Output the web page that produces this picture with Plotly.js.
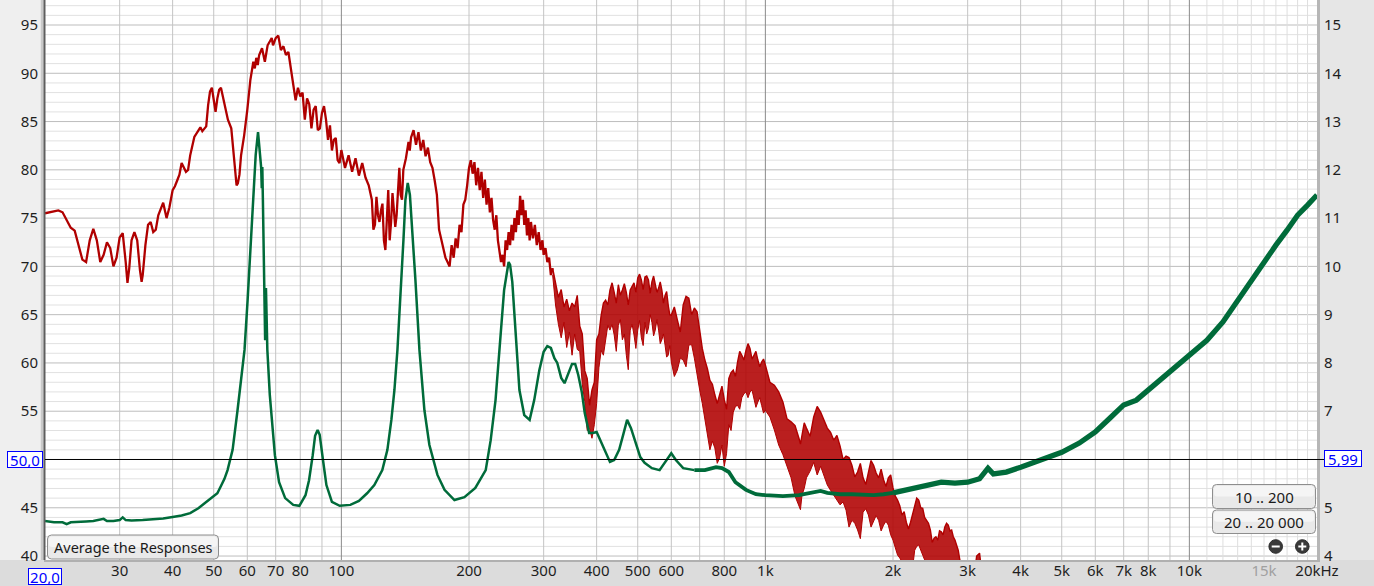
<!DOCTYPE html>
<html><head><meta charset="utf-8">
<script src="https://cdn.plot.ly/plotly-3.0.1.min.js"></script>
<style>html,body{margin:0;padding:0;background:#dcdcdc;overflow:hidden}#chart{width:1374px;height:586px}</style>
</head><body><div id="chart"></div>
<script>
// ---------------- DATA ----------------
// Red curve: SPL in dB (left axis). Smooth/jagged part as a line.
const redLineF = [20,20.5,21,21.5,22,22.5,23,23.5,24,24.5,25,25.5,26,26.5,27,27.5,28,28.5,29,29.5,30,30.5,31,31.3,31.6,32,32.5,33,33.5,33.8,34,34.5,35,35.5,36,36.5,37,38,38.7,39.3,40,40.5,41,41.5,42,42.5,43,43.5,44,45,46,46.5,47,47.5,48,48.5,49,49.5,50,50.5,51,51.5,52,52.5,53,54,55,56,56.6,57,57.5,58,59,60,61,62,62.5,63,63.5,64,65,66,67,68,68.5,69,70,71,72,73,74,75,76,77,78,79,80,81,82,83,84,85,86,87,88,89,90,91,92,93,94,95,96,97,98,99,100,102,104,106,108,110,112,114,116,118,119,120,121,122,123,124,125,126,127,128,129,130,131,132,133,134,135,136,137,138,139,140,142,144,145,146,148,150,152,154,156,158,160,162,164,166,168,170,172,174,176,178,180,182,184,186,188,190,192,194,196,198,200,202,204,206,208,210,212,214,216,218,220,222,224,226,228,230,232,234,236,238,240,242,244,246,248,250,252,254,256,258,260,262,264,266,268,270,272,274,276,278,280,283,286,289,292,295,298,300,303,306,309,312,315];
const redLineDb = [75.5,75.6,75.7,75.8,75.6,74.8,74.0,73.7,72.2,70.7,70.45,72.7,73.9,72.7,70.45,71.2,72.5,71.9,70.0,70.9,73.0,73.45,70.45,68.3,69.8,72.7,73.55,72.7,69.6,68.4,69.1,72.2,74.3,74.6,73.55,73.8,75.3,76.6,75.0,76.1,77.9,78.3,78.9,79.5,80.7,80.2,79.8,80.0,81.5,83.4,84.1,84.4,84.0,84.3,84.5,86.7,88.1,88.5,87.2,86.0,87.4,88.3,88.5,87.7,87.0,85.2,84.3,81.0,78.4,78.6,79.5,81.5,83.6,86.2,89.3,91.2,90.5,91.6,90.85,91.9,92.6,91.2,92.9,93.4,93.65,92.9,93.65,93.9,92.4,92.8,91.9,92.2,90.5,88.8,87.2,88.5,87.6,88.0,85.2,87.4,86.8,84.3,86.2,86.6,84.1,84.3,85.9,86.6,85.2,83.1,84.6,82.0,83.1,83.3,81.0,80.7,82.05,80.2,81.5,79.8,81.2,79.4,80.7,79.2,78.4,76.9,73.8,74.3,77.2,75.3,74.6,75.8,76.5,72.7,71.7,74.8,77.9,72.7,74.6,77.6,75.8,74.1,75.3,78.4,80.2,77.4,76.9,80.0,81.2,82.9,82.0,83.35,84.1,82.6,83.9,82.0,83.1,81.4,82.3,80.8,80.2,78.9,77.4,73.8,72.7,71.7,70.9,70.45,70.0,72.2,70.9,72.9,71.9,74.3,73.55,76.4,76.9,78.4,80.2,81.0,79.6,80.8,78.4,80.2,77.9,79.8,77.1,79.0,76.4,78.1,75.6,77.1,74.8,73.8,75.3,72.7,71.7,70.45,71.2,70.0,72.7,71.7,73.55,72.2,74.3,72.7,75.0,73.55,75.8,74.3,77.3,75.3,76.9,74.3,75.8,73.2,75.0,72.7,74.6,72.9,74.3,72.2,73.55,71.7,72.7,71.2,71.9,70.45,70.9,69.1,69.8];

// Red curve, noisy part: upper and lower edge of the band (dB)
const bandF = [315,320,325,330,335,340,345,350,355,360,365,370,375,380,385,390,395,400,405,410,415,420,425,430,435,440,445,450,455,460,465,470,475,480,485,490,495,500,505,510,515,520,525,530,535,540,545,550,555,560,565,570,575,580,585,590,595,600,610,620,630,640,650,660,670,680,690,700,710,720,730,740,750,760,770,780,790,800,810,820,830,840,850,860,870,880,890,900,910,920,930,940,950,960,970,980,990,1000,1025,1050,1075,1100,1125,1150,1175,1200,1210,1220,1235,1250,1275,1300,1325,1350,1375,1400,1425,1450,1475,1500,1525,1550,1575,1600,1625,1650,1675,1700,1725,1750,1775,1800,1825,1850,1875,1900,1925,1950,1975,2000,2025,2050,2075,2100,2125,2150,2175,2200,2225,2250,2275,2300,2325,2350,2375,2400,2425,2450,2475,2500,2525,2550,2575,2600,2625,2650,2675,2700,2725,2750,2775,2800,2825,2850,2875,2900,2950,3000,3100,3150,3200,3250,3300];
const bandHi = [69.83,68.4,66.8,67.6,65.8,66.6,65.4,66.2,65.8,67.0,63.8,63.0,59.2,58.4,55.6,57.2,58.0,62.4,63.0,64.96,66.2,66.5,66.0,67.55,68.3,67.3,66.2,68.1,67.0,67.55,68.2,67.3,66.0,67.55,68.0,68.3,67.3,68.8,69.2,68.6,67.6,68.9,69.0,68.6,67.2,68.4,69.0,68.3,67.3,67.75,68.4,67.55,66.2,67.0,67.4,66.0,65.0,64.96,65.8,64.45,63.2,66.0,66.9,66.7,65.0,65.7,65.3,63.4,61.5,60.3,59.4,58.2,57.8,56.7,55.8,56.7,57.6,56.2,55.2,58.4,59.0,59.25,58.6,60.1,61.2,60.8,60.3,61.3,62.0,61.5,60.4,60.8,61.2,60.3,59.6,60.1,60.4,59.8,58.0,57.7,57.0,55.95,54.2,53.9,53.5,52.2,51.6,52.5,53.8,53.25,52.4,54.4,55.5,54.9,54.0,53.25,52.8,52.0,52.5,51.4,50.0,50.35,50.2,49.4,48.2,48.7,49.6,48.1,47.4,48.7,49.9,49.4,48.6,48.1,49.0,47.9,47.2,48.1,48.4,47.05,46.2,45.8,45.2,44.25,44.6,43.5,42.8,43.5,44.3,44.95,46.0,45.8,45.0,44.95,44.0,43.7,43.4,42.7,41.4,41.85,42.0,41.65,42.6,42.5,42.2,43.0,43.4,43.2,42.6,42.7,42.0,41.65,41.0,40.6,39.6,39.4,38.0,37.0,37.5,40.0,40.3,37.5,35.4];
const bandLo = [69.1,66.0,64.0,62.6,64.2,61.6,63.2,60.8,63.0,61.4,61.2,57.8,56.0,53.0,53.2,52.2,53.6,55.8,59.5,61.3,60.8,62.4,63.9,63.4,64.0,62.9,61.2,63.9,64.5,62.4,63.0,60.8,59.3,63.4,64.0,62.9,61.5,63.4,64.4,62.6,61.8,64.2,63.0,63.6,65.0,64.2,62.8,63.4,64.5,63.4,62.0,62.4,63.0,61.85,60.6,60.8,61.8,60.1,58.6,59.25,60.5,60.3,59.6,61.85,61.9,60.5,58.6,57.2,55.8,54.1,52.4,51.0,51.9,51.2,49.6,50.15,51.5,49.3,50.6,53.6,53.0,54.9,55.5,55.6,55.2,56.4,56.8,57.0,56.4,57.0,57.2,56.2,55.4,55.95,56.4,55.6,54.8,55.1,54.4,53.05,51.5,50.5,49.3,48.1,46.2,45.3,44.8,46.3,47.0,48.1,48.8,49.7,48.4,49.3,48.4,47.35,46.8,46.3,45.8,45.3,45.6,44.75,43.0,43.7,43.4,42.7,41.8,44.55,44.9,44.25,43.0,43.7,44.2,43.7,42.6,43.2,43.6,43.2,42.2,41.65,40.8,40.1,39.8,39.4,38.8,39.1,39.5,38.55,38.8,40.6,41.0,41.15,40.5,40.1,39.6,39.1,38.6,38.55,38.2,38.0,37.8,38.0,38.2,38.0,38.2,38.55,38.6,38.55,38.0,38.0,37.8,37.5,37.5,37.5,37.0,37.0,36.5,35.4,35.4,36.5,36.5,35.4,34.4];

// Green curve: impedance in ohm (right axis)
const greenF = [20,21,22,22.5,23,24,25,26,27,27.5,28,29,30,30.5,31,32,34,36,38,40,42,44,46,48,50,51,52,53,53.9,55.4,56.9,58.5,59.1,60.1,61.3,62.1,62.8,63.6,64.1,64.7,64.9,65.1,65.3,65.6,65.9,66.1,66.4,66.9,67.8,68.8,69.7,71.3,73.7,77,79.6,82.3,83.9,85.6,86.7,87.9,88.9,90.5,92.2,95,99.1,105,110,115,119.6,124.9,128.4,131.2,133.4,135.6,137.8,140.1,141.6,143.4,145.1,147.1,149.5,152.8,157,161.3,168.5,175.1,184.8,195.1,207,219,225,231,236,242,248,250,253,257,263,270,278,285,293,300,306,312,318,323,330,336,343,350,356,362,369,375,384,392,400,414,430,440,452,462,472,482,494,507,519,540,563,580,600,615,640,680,720,765,790,820,850,900,950,1000,1100,1200,1300,1350,1400,1500,1600,1700,1800,1900,2000,2200,2400,2600,2800,3000,3200,3350,3450,3700,4000,4500,5000,5500,6000,6500,7000,7500,8000,9000,10000,11000,12000,13000,14000,15000,16000,17000,18000,19000,20000];
const greenOhm = [4.725,4.70,4.70,4.66,4.70,4.70,4.715,4.725,4.745,4.77,4.725,4.725,4.745,4.80,4.745,4.735,4.745,4.755,4.78,4.81,4.84,4.89,4.99,5.12,5.24,5.30,5.45,5.60,5.78,6.20,7.02,7.96,8.27,9.30,10.71,11.38,12.31,12.78,12.47,12.04,11.62,12.06,11.38,10.13,9.51,8.47,9.55,8.27,7.34,6.61,6.09,5.53,5.20,5.06,5.04,5.26,5.57,6.09,6.49,6.61,6.51,5.99,5.47,5.12,5.04,5.06,5.14,5.30,5.47,5.78,6.20,6.82,7.44,8.27,9.30,10.55,11.38,11.73,11.48,10.75,9.72,8.27,7.02,6.30,5.68,5.37,5.16,5.22,5.41,5.78,6.40,7.23,8.27,9.51,10.09,10.03,9.68,8.68,7.44,6.92,6.82,7.23,7.85,8.23,8.35,8.31,8.10,8.00,7.69,7.58,7.77,7.98,7.98,7.75,7.40,6.96,6.55,6.55,6.57,6.26,5.95,5.99,6.20,6.51,6.82,6.65,6.34,6.05,5.93,5.82,5.78,5.95,6.13,5.99,5.82,5.78,5.78,5.84,5.82,5.74,5.53,5.37,5.28,5.26,5.24,5.26,5.33,5.35,5.31,5.28,5.28,5.26,5.26,5.28,5.31,5.39,5.47,5.53,5.51,5.53,5.60,5.82,5.70,5.74,5.84,5.99,6.15,6.34,6.57,6.86,7.13,7.23,7.44,7.81,8.16,8.47,8.85,9.30,9.68,10.09,10.44,10.75,11.06,11.27,11.48];

// Axis ticks and grid
const xTickVals = [30,40,50,60,70,80,100,200,300,400,500,600,800,1000,2000,3000,4000,5000,6000,7000,8000,10000,15000,20000];
const xTickText = ['30','40','50','60','70','80','100','200','300','400','500','600','800','1k','2k','3k','4k','5k','6k','7k','8k','10k','<span style="color:#a0a0a0">15k</span>','20kHz'];
const yTickVals = [40,45,50,55,60,65,70,75,80,85,90,95];
const yTickText = ['40','45','','55','60','65','70','75','80','85','90','95'];   // "50" sits under the cursor box
const y2TickVals = [4,5,6,7,8,9,10,11,12,13,14,15];
const y2TickText = ['4','5','','7','8','9','10','11','12','13','14','15']; // "6" sits under the cursor box
const gridMidX = [30,40,50,60,70,80,90,200,300,400,500,600,700,800,900,2000,3000,4000,5000,6000,7000,8000,9000];
const gridDecadeX = [100,1000,10000];
const gridFineX = [11000,12000,13000,14000,15000,16000,17000,18000,19000];
const gridY = [40,41,42,43,44,45,46,47,48,49,50,51,52,53,54,55,56,57,58,59,60,61,62,63,64,65,66,67,68,69,70,71,72,73,74,75,76,77,78,79,80,81,82,83,84,85,86,87,88,89,90,91,92,93,94,95,96,97];

[[redLineF,redLineDb,'red'],[bandF,bandHi,'hi'],[bandF,bandLo,'lo'],[greenF,greenOhm,'green']].forEach(([a,b,n])=>{
  if(a.length!==b.length) throw new Error(n+' length mismatch '+a.length+' vs '+b.length);
});

// ---------------- LAYOUT ----------------
const FONT = '"Noto Sans", "DejaVu Sans", sans-serif';
const W=1374,H=586,ML=45,MR=57,MT=0,MB=26;
const PW=W-ML-MR, PH=H-MT-MB;
const XR=[Math.log10(20),Math.log10(20000)];
const YR=[39.59,97.59];
const Y2R=[3.918,15.518];
const px=v=>(v-ML)/PW;
const py=v=>(H-MB-v)/PH;
const fx=f=>(Math.log10(f)-XR[0])/(XR[1]-XR[0]);

const RED='#b00000', GREEN='#006b3a';
const shapes=[];
shapes.push({type:'rect',xref:'paper',yref:'paper',x0:px(0),x1:px(43),y0:py(560),y1:py(0),fillcolor:'#efefef',line:{width:0},layer:'below'});
shapes.push({type:'rect',xref:'paper',yref:'paper',x0:px(1317),x1:px(1374),y0:py(560),y1:py(0),fillcolor:'#e6e6e6',line:{width:0},layer:'below'});
gridY.forEach(v=>shapes.push({type:'line',xref:'paper',yref:'y',x0:0,x1:1,y0:v,y1:v,line:{color:(v%5===0)?'#bdbdbd':'#e1e1e1',width:1},layer:'below'}));
gridFineX.forEach(v=>shapes.push({type:'line',xref:'paper',yref:'paper',x0:fx(v),x1:fx(v),y0:0,y1:1,line:{color:'#dedede',width:1},layer:'below'}));
gridMidX.forEach(v=>shapes.push({type:'line',xref:'paper',yref:'paper',x0:fx(v),x1:fx(v),y0:0,y1:1,line:{color:'#c4c4c4',width:1},layer:'below'}));
gridDecadeX.forEach(v=>shapes.push({type:'line',xref:'paper',yref:'paper',x0:fx(v),x1:fx(v),y0:0,y1:1,line:{color:'#8a8a8a',width:1},layer:'below'}));
shapes.push({type:'line',xref:'paper',yref:'paper',x0:px(42),x1:px(42),y0:py(560),y1:py(0),line:{color:'#c9c9c9',width:2.5}});
shapes.push({type:'line',xref:'paper',yref:'paper',x0:px(44.5),x1:px(44.5),y0:py(560),y1:py(0),line:{color:'#5e5e5e',width:2}});
shapes.push({type:'line',xref:'paper',yref:'paper',x0:px(1318.5),x1:px(1318.5),y0:py(561),y1:py(0),line:{color:'#b6b6b6',width:3}});
shapes.push({type:'line',xref:'paper',yref:'paper',x0:px(44),x1:px(1320),y0:py(561),y1:py(561),line:{color:'#b0b0b0',width:2}});
shapes.push({type:'line',xref:'paper',yref:'y',x0:px(45),x1:px(1324),y0:50,y1:50,line:{color:'#000000',width:1}});

function rrect(x0,y0,x1,y1,r){
  const X=px,Y=py;
  return `M${X(x0+r)},${Y(y0)} L${X(x1-r)},${Y(y0)} Q${X(x1)},${Y(y0)} ${X(x1)},${Y(y0+r)} L${X(x1)},${Y(y1-r)} Q${X(x1)},${Y(y1)} ${X(x1-r)},${Y(y1)} L${X(x0+r)},${Y(y1)} Q${X(x0)},${Y(y1)} ${X(x0)},${Y(y1-r)} L${X(x0)},${Y(y0+r)} Q${X(x0)},${Y(y0)} ${X(x0+r)},${Y(y0)} Z`;
}
const buttons=[
  {x0:47.5,y0:535,x1:218.5,y1:559,text:'Average the Responses',size:14.5},
  {x0:1212.5,y0:484.5,x1:1315.5,y1:508.5,text:'10 .. 200',size:15},
  {x0:1212.5,y0:510,x1:1315.5,y1:533.5,text:'20 .. 20 000',size:15}
];
const annotations=[];
buttons.forEach(b=>{
  shapes.push({type:'path',xref:'paper',yref:'paper',path:rrect(b.x0,b.y0,b.x1,b.y1,4),fillcolor:'#e9e9e9',line:{color:'#8e8e8e',width:1}});
  shapes.push({type:'path',xref:'paper',yref:'paper',path:rrect(b.x0+1.5,b.y0+1.5,b.x1-1.5,(b.y0+b.y1)/2,3),fillcolor:'#f5f5f5',line:{width:0}});
  annotations.push({xref:'paper',yref:'paper',x:px((b.x0+b.x1)/2),y:py((b.y0+b.y1)/2),xanchor:'center',yanchor:'middle',showarrow:false,text:b.text,font:{family:FONT,size:b.size,color:'#1a1a1a'}});
});
[[1275.7,546.5,false],[1302.3,546.5,true]].forEach(([cx,cy,plus])=>{
  shapes.push({type:'circle',xref:'paper',yref:'paper',x0:px(cx-6.8),x1:px(cx+6.8),y0:py(cy+6.8),y1:py(cy-6.8),fillcolor:'#3a3a3a',line:{color:'#2a2a2a',width:1}});
  shapes.push({type:'line',xref:'paper',yref:'paper',x0:px(cx-4),x1:px(cx+4),y0:py(cy),y1:py(cy),line:{color:'#ffffff',width:2}});
  if(plus) shapes.push({type:'line',xref:'paper',yref:'paper',x0:px(cx),x1:px(cx),y0:py(cy-4),y1:py(cy+4),line:{color:'#ffffff',width:2}});
});
const boxes=[[25,459.5,34,'50,0'],[1343,458.7,36,'5,99'],[45.3,576.7,32,'20,0']];
boxes.forEach(([cx,cy,w,t])=>annotations.push({xref:'paper',yref:'paper',x:px(cx),y:py(cy),xanchor:'center',yanchor:'middle',showarrow:false,text:t,width:w,height:15,borderpad:0,bordercolor:'#0000ff',borderwidth:1,bgcolor:'#ffffff',font:{family:FONT,size:15,color:'#0000ff'}}));

// ---------------- TRACES ----------------
function sliceF(F,V,lo,hi){const x=[],y=[];F.forEach((f,i)=>{if(f>=lo&&f<=hi){x.push(f);y.push(V[i]);}});return {x,y};}
const gA=sliceF(greenF,greenOhm,0,680), gB=sliceF(greenF,greenOhm,680,2000), gC=sliceF(greenF,greenOhm,2000,1e9);
const traces=[
  {x:redLineF,y:redLineDb,mode:'lines',line:{color:RED,width:2.3},hoverinfo:'skip'},
  {x:bandF,y:bandLo,mode:'lines',line:{color:RED,width:1},hoverinfo:'skip'},
  {x:bandF,y:bandHi,mode:'lines',fill:'tonexty',fillcolor:'rgba(176,0,0,0.88)',line:{color:RED,width:1.4},hoverinfo:'skip'},
  {x:gA.x,y:gA.y,yaxis:'y2',mode:'lines',line:{color:GREEN,width:2.5},hoverinfo:'skip'},
  {x:gB.x,y:gB.y,yaxis:'y2',mode:'lines',line:{color:GREEN,width:3.8},hoverinfo:'skip'},
  {x:gC.x,y:gC.y,yaxis:'y2',mode:'lines',line:{color:GREEN,width:5.3},hoverinfo:'skip'}
];

const layout={
  width:W,height:H,margin:{l:ML,r:MR,t:MT,b:MB,pad:0},
  paper_bgcolor:'#dcdcdc',plot_bgcolor:'#ffffff',showlegend:false,
  font:{family:FONT,size:15,color:'#1e1e1e'},
  xaxis:{type:'log',range:XR,tickvals:xTickVals,ticktext:xTickText,showgrid:false,zeroline:false,showline:false,ticks:'',tickfont:{family:FONT,size:15,color:'#1e1e1e'},automargin:false,fixedrange:true},
  yaxis:{range:YR,tickvals:yTickVals,ticktext:yTickText,showgrid:false,zeroline:false,showline:false,ticks:'outside',ticklen:3,tickcolor:'rgba(0,0,0,0)',tickfont:{family:FONT,size:15,color:'#1e1e1e'},automargin:false,fixedrange:true},
  yaxis2:{overlaying:'y',side:'right',range:Y2R,tickvals:y2TickVals,ticktext:y2TickText,showgrid:false,zeroline:false,showline:false,ticks:'outside',ticklen:3,tickcolor:'rgba(0,0,0,0)',tickfont:{family:FONT,size:15,color:'#1e1e1e'},automargin:false,fixedrange:true},
  shapes:shapes,annotations:annotations
};
Plotly.newPlot('chart',traces,layout,{staticPlot:true,displayModeBar:false});
</script></body></html>
